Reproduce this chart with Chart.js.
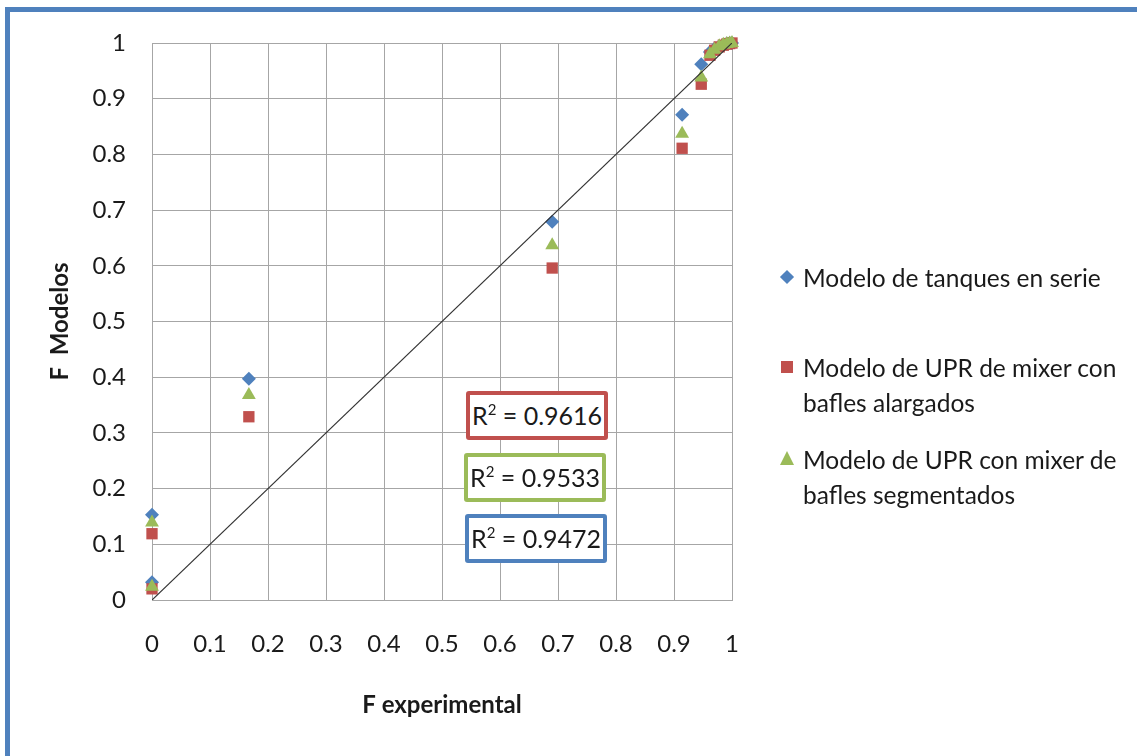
<!DOCTYPE html>
<html>
<head>
<meta charset="utf-8">
<script src="https://cdn.jsdelivr.net/npm/chart.js@4"></script>
<style>
    html, body { margin: 0; padding: 0; background: #fff; overflow: hidden; }
    #wrap { position: relative; width: 1137px; height: 756px; overflow: hidden; font-family: Lato, sans-serif; }
    #frame { position: absolute; left: 5px; top: 7px; width: 1200px; height: 800px; border: 5px solid #4f81bd; box-sizing: border-box; }
    #chart { position: absolute; left: 0; top: 0; }
    .r2 { position: absolute; width: 142px; height: 49px; box-sizing: border-box; border: 4px solid; border-radius: 3px; background: #fff;
          font-size: 25px; line-height: 41px; text-align: center; color: #1a1a1a; }
    .r2 sup { font-size: 15px; line-height: 0; position: relative; top: -1px; }
    .leg { position: absolute; left: 803px; font-size: 24.5px; line-height: 35px; color: #1a1a1a; white-space: nowrap; }
    .mk { position: absolute; }
</style>
</head>
<body>
<div id="wrap">
    <div id="frame"></div>
    <canvas id="chart" width="1137" height="756"></canvas>
    <div id="legend"></div>
    <div id="r2boxes"></div>
</div>
<script>
// F experimental (x) shared by every model
const fExperimental = [0, 0, 0.167, 0.690, 0.914, 0.947, 0.962, 0.970, 0.978, 0.985, 0.991, 0.996, 1.0];

const tanquesSerie = [0.032, 0.153, 0.397, 0.679, 0.871, 0.962, 0.984, 0.990, 0.994, 0.997, 0.999, 1.0, 1.0];
const uprAlargados = [0.020, 0.119, 0.329, 0.596, 0.811, 0.926, 0.978, 0.987, 0.993, 0.996, 0.998, 0.999, 1.0];
const uprSegmentados = [0.024, 0.139, 0.368, 0.637, 0.837, 0.938, 0.980, 0.988, 0.994, 0.997, 0.998, 0.999, 1.0];

// reference line y = x
const lineX = [0, 1];
const lineY = [0, 1];

const seriesNames = [
    ['Modelo de tanques en serie'],
    ['Modelo de UPR de mixer con', 'bafles alargados'],
    ['Modelo de UPR con mixer de', 'bafles segmentados']
];
const seriesColors = ['#4f81bd', '#c0504d', '#9bbb59'];
const r2Values = ['0.9616', '0.9533', '0.9472'];
const r2Colors = ['#c0504d', '#9bbb59', '#4f81bd'];

const xTickLabels = ['0', '0.1', '0.2', '0.3', '0.4', '0.5', '0.6', '0.7', '0.8', '0.9', '1'];
const yTickLabels = ['0', '0.1', '0.2', '0.3', '0.4', '0.5', '0.6', '0.7', '0.8', '0.9', '1'];

const toPoints = (xs, ys) => xs.map((x, i) => ({ x: x, y: ys[i] }));

Chart.defaults.font.family = "Lato, sans-serif";
Chart.defaults.color = "#1a1a1a";

const gridColor = '#a6a6a6';

new Chart(document.getElementById('chart').getContext('2d'), {
    type: 'scatter',
    data: {
        datasets: [
            {
                type: 'line',
                label: 'y = x',
                data: toPoints(lineX, lineY),
                borderColor: '#333',
                borderWidth: 1.2,
                pointRadius: 0,
                order: 0
            },
            {
                label: seriesNames[0].join(' '),
                data: toPoints(fExperimental, tanquesSerie),
                pointStyle: 'rectRot',
                pointRadius: 7,
                backgroundColor: seriesColors[0],
                borderColor: seriesColors[0],
                borderWidth: 0,
                clip: false,
                order: 3
            },
            {
                label: seriesNames[1].join(' '),
                data: toPoints(fExperimental, uprAlargados),
                pointStyle: 'rect',
                pointRadius: 8,
                backgroundColor: seriesColors[1],
                borderColor: seriesColors[1],
                borderWidth: 0,
                clip: false,
                order: 2
            },
            {
                label: seriesNames[2].join(' '),
                data: toPoints(fExperimental, uprSegmentados),
                pointStyle: 'triangle',
                pointRadius: 8,
                backgroundColor: seriesColors[2],
                borderColor: seriesColors[2],
                borderWidth: 0,
                clip: false,
                order: 1
            }
        ]
    },
    options: {
        responsive: false,
        animation: false,
        layout: { padding: { top: 43, right: 405, bottom: 26, left: 40 } },
        plugins: {
            legend: { display: false },
            tooltip: { enabled: false }
        },
        scales: {
            x: {
                type: 'linear',
                min: 0,
                max: 1,
                ticks: {
                    stepSize: 0.1,
                    padding: 30,
                    font: { size: 24 },
                    maxRotation: 0,
                    callback: function (value, index) { return xTickLabels[index]; }
                },
                grid: { color: gridColor, drawTicks: false },
                border: { color: gridColor },
                title: {
                    display: true,
                    text: 'F experimental',
                    font: { size: 24, weight: 'bold' },
                    padding: { top: 0, bottom: 10 }
                },
                afterFit: function (scale) { scale.height = 130; }
            },
            y: {
                min: 0,
                max: 1,
                ticks: {
                    stepSize: 0.1,
                    padding: 26,
                    font: { size: 24 },
                    callback: function (value, index) { return yTickLabels[index]; }
                },
                grid: { color: gridColor, drawTicks: false },
                border: { color: gridColor },
                title: {
                    display: true,
                    text: 'F  Modelos',
                    font: { size: 24, weight: 'bold' },
                    padding: { top: 6, bottom: 0 }
                },
                afterFit: function (scale) { scale.width = 112; }
            }
        }
    }
});

// legend, drawn as html beside the plot
const legendEl = document.getElementById('legend');
const legendTops = [277, 367, 459];
seriesNames.forEach((lines, i) => {
    const cy = legendTops[i];
    const mk = document.createElement('div');
    mk.className = 'mk';
    if (i === 0) {
        mk.style.cssText = `left:782px;top:${cy - 5}px;width:10px;height:10px;background:${seriesColors[0]};transform:rotate(45deg);`;
    } else if (i === 1) {
        mk.style.cssText = `left:781px;top:${cy - 6}px;width:12px;height:12px;background:${seriesColors[1]};`;
    } else {
        mk.style.cssText = `left:780px;top:${cy - 8}px;width:0;height:0;border-left:7px solid transparent;border-right:7px solid transparent;border-bottom:14px solid ${seriesColors[2]};`;
    }
    legendEl.appendChild(mk);
    const txt = document.createElement('div');
    txt.className = 'leg';
    txt.style.top = (cy - 17.5) + 'px';
    txt.innerHTML = lines.join('<br>');
    legendEl.appendChild(txt);
});

// R² labels
const boxEl = document.getElementById('r2boxes');
const boxPos = [[466, 391], [464, 453], [465, 514]];
r2Values.forEach((v, i) => {
    const b = document.createElement('div');
    b.className = 'r2';
    b.style.left = boxPos[i][0] + 'px';
    b.style.top = boxPos[i][1] + 'px';
    b.style.borderColor = r2Colors[i];
    b.innerHTML = 'R<sup>2</sup> = ' + v;
    boxEl.appendChild(b);
});
</script>
</body>
</html>
